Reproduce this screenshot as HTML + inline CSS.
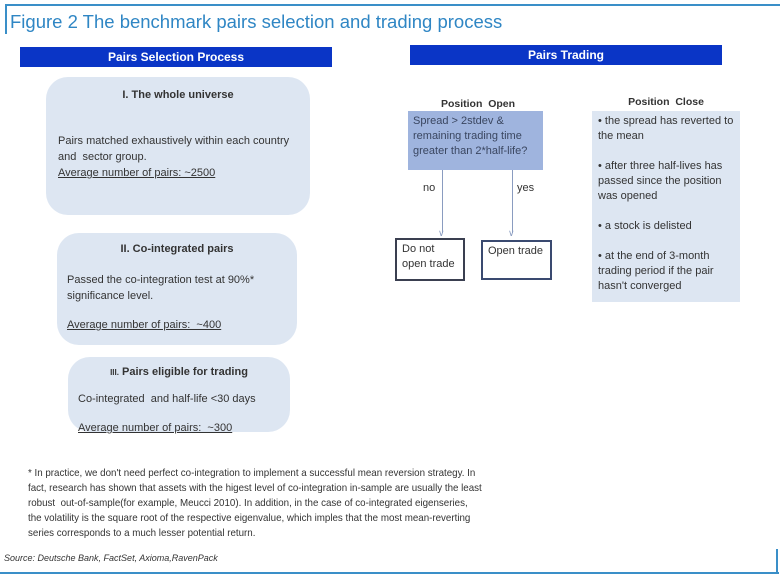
<!DOCTYPE html>
<html><head><meta charset="utf-8"><style>
body{margin:0;width:780px;height:580px;background:#fff;position:relative;overflow:hidden;font-family:"Liberation Sans",sans-serif;}
.a{position:absolute;}
.hdr{background:#0a35c6;color:#fff;font-weight:bold;font-size:12px;text-align:center;line-height:20px;}
.rb{background:#dde6f2;border-radius:22px;color:#333;font-size:11px;}
.t{font-size:11px;color:#333;line-height:15px;}
u{text-decoration:underline;}
</style></head><body>
<div class="a" style="left:5px;top:4px;width:775px;height:2px;background:#3a8fc8"></div>
<div class="a" style="left:5px;top:4px;width:2px;height:30px;background:#3a8fc8"></div>
<div class="a" style="left:10px;top:11px;font-size:18.5px;color:#2f86c4;white-space:nowrap">Figure 2 The benchmark pairs selection and trading process</div>
<div class="a hdr" style="left:20px;top:47px;width:312px">Pairs Selection Process</div>
<div class="a hdr" style="left:410px;top:45px;width:312px">Pairs Trading</div>

<div class="a rb" style="left:46px;top:77px;width:264px;height:138px"></div>
<div class="a t" style="left:46px;top:88px;width:264px;text-align:center;font-weight:bold">I. The whole universe</div>
<div class="a t" style="left:58px;top:133px;width:250px;line-height:16px">Pairs matched exhaustively within each country and&nbsp; sector group.<br><u>Average number of pairs: ~2500</u></div>

<div class="a rb" style="left:57px;top:233px;width:240px;height:112px"></div>
<div class="a t" style="left:57px;top:242px;width:240px;text-align:center;font-weight:bold">II. Co-integrated pairs</div>
<div class="a t" style="left:67px;top:272px;width:225px;line-height:16px">Passed the co-integration test at 90%* significance level.</div>
<div class="a t" style="left:67px;top:318px"><u>Average number of pairs:&nbsp; ~400</u></div>

<div class="a rb" style="left:68px;top:357px;width:222px;height:75px"></div>
<div class="a t" style="left:68px;top:365px;width:222px;text-align:center;font-weight:bold"><span style="font-size:8px">III.</span> Pairs eligible for trading</div>
<div class="a t" style="left:78px;top:392px">Co-integrated&nbsp; and half-life &lt;30 days</div>
<div class="a t" style="left:78px;top:421px"><u>Average number of pairs:&nbsp; ~300</u></div>

<div class="a t" style="left:408px;top:97px;width:140px;text-align:center;font-weight:bold;font-size:10.5px">Position&nbsp; Open</div>
<div class="a" style="left:408px;top:111px;width:135px;height:59px;background:#9fb4de"></div>
<div class="a t" style="left:413px;top:114px;line-height:15px;color:#3a4660">Spread &gt; 2stdev &amp;<br>remaining trading time<br>greater than 2*half-life?</div>
<div class="a" style="left:442px;top:170px;width:1px;height:63px;background:#8a9cc0"></div>
<div class="a" style="left:512px;top:170px;width:1px;height:63px;background:#8a9cc0"></div>
<div class="a" style="left:438px;top:229px;color:#8a9cc0;font-size:9px;line-height:8px">∨</div>
<div class="a" style="left:508px;top:229px;color:#8a9cc0;font-size:9px;line-height:8px">∨</div>
<div class="a t" style="left:423px;top:181px">no</div>
<div class="a t" style="left:517px;top:181px">yes</div>
<div class="a" style="left:395px;top:238px;width:66px;height:39px;border:2px solid #3a3f50"></div>
<div class="a t" style="left:402px;top:242px">Do not<br>open trade</div>
<div class="a" style="left:481px;top:240px;width:67px;height:36px;border:2px solid #3a4a70"></div>
<div class="a t" style="left:488px;top:244px">Open trade</div>

<div class="a t" style="left:592px;top:95px;width:148px;text-align:center;font-weight:bold;font-size:10.5px">Position&nbsp; Close</div>
<div class="a" style="left:592px;top:111px;width:148px;height:191px;background:#dde6f2"></div>
<div class="a t" style="left:598px;top:114px;width:140px;line-height:15px">• the spread has reverted to the mean<br><br>• after three half-lives has passed since the position was opened<br><br>• a stock is delisted<br><br>• at the end of 3-month trading period if the pair hasn't converged</div>

<div class="a" style="left:28px;top:466px;font-size:10.5px;line-height:15px;color:#333;white-space:nowrap;transform:scaleX(0.93);transform-origin:0 0">* In practice, we don't need perfect co-integration to implement a successful mean reversion strategy. In<br>fact, research has shown that assets with the higest level of co-integration in-sample are usually the least<br>robust&nbsp; out-of-sample(for example, Meucci 2010). In addition, in the case of co-integrated eigenseries,<br>the volatility is the square root of the respective eigenvalue, which imples that the most mean-reverting<br>series corresponds to a much lesser potential return.</div>
<div class="a" style="left:4px;top:553px;font-size:9px;font-style:italic;color:#333">Source: Deutsche Bank, FactSet, Axioma,RavenPack</div>
<div class="a" style="left:0;top:572px;width:779px;height:2px;background:#3a8fc8"></div>
<div class="a" style="left:776px;top:549px;width:2px;height:25px;background:#3a8fc8"></div>
</body></html>
